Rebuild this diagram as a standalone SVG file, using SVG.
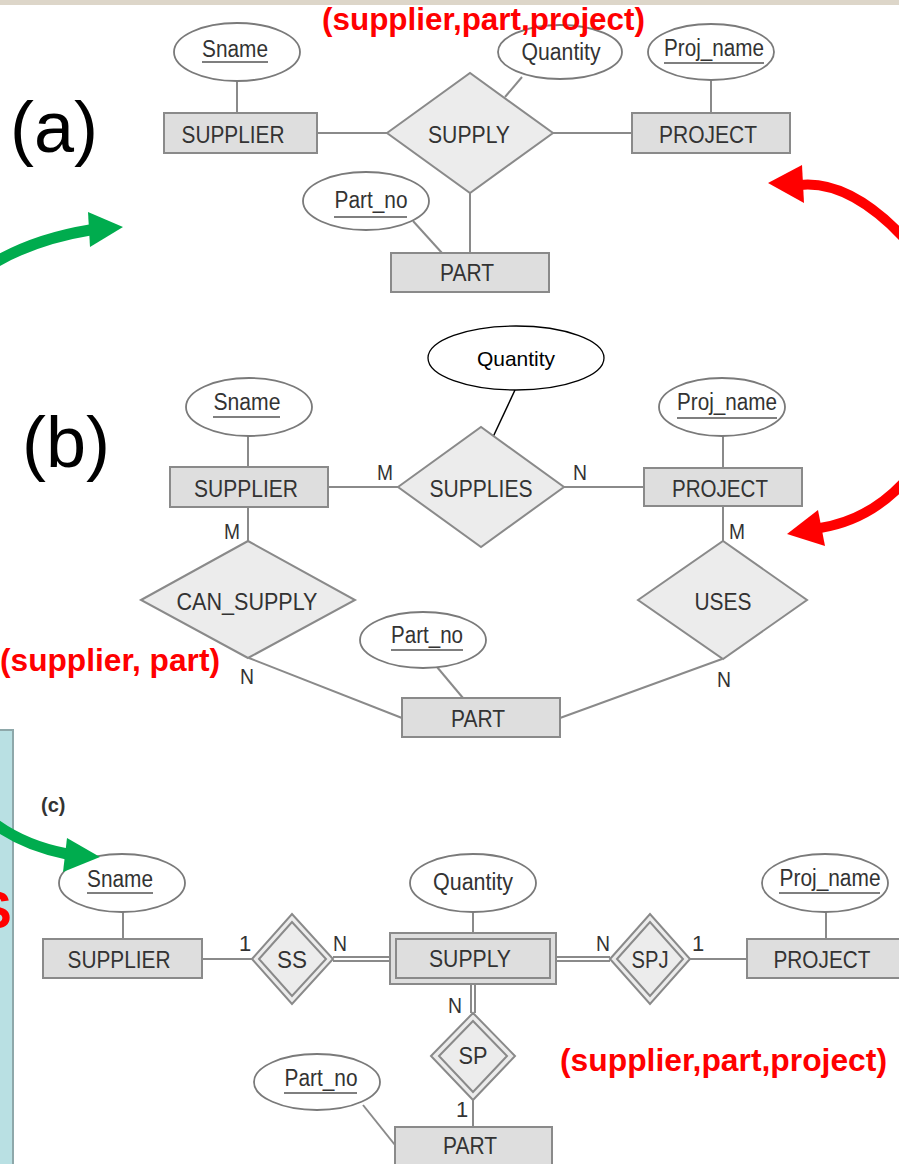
<svg xmlns="http://www.w3.org/2000/svg" width="899" height="1164" viewBox="0 0 899 1164">
<style>
.ent{fill:#dedede;stroke:#8a8a8a;stroke-width:2}
.rel{fill:#ececec;stroke:#8a8a8a;stroke-width:2}
.att{fill:#ffffff;stroke:#7a7a7a;stroke-width:1.8}
.lbl{font-family:"Liberation Sans",Arial,sans-serif;font-size:23px;fill:#333333;text-anchor:middle}
.card{font-family:"Liberation Sans",Arial,sans-serif;font-size:22px;fill:#333333;text-anchor:middle}
.ul{stroke:#555;stroke-width:1.6}
.ln{stroke:#8a8a8a;stroke-width:2;fill:none}
.dbl-o{stroke:#8a8a8a;stroke-width:6;fill:none}
.dbl-i{stroke:#ffffff;stroke-width:2;fill:none}
.red{font-family:"Liberation Sans",Arial,sans-serif;font-weight:bold;font-size:31px;fill:#ff0000}
.big{font-family:"Liberation Sans",Arial,sans-serif;font-size:72px;fill:#000}
.rarr{stroke:#ff0000;stroke-width:10;fill:none}
.garr{stroke:#00ac4e;stroke-width:11;fill:none}
</style>

<rect x="0" y="0" width="899" height="5" fill="#ddd6c9"/>
<rect id="side-panel" x="-2" y="730" width="15" height="440" fill="#b9e0e3" stroke="#8ea8aa" stroke-width="2"/>
<text x="-23" y="928" font-family="Liberation Sans, Arial, sans-serif" font-weight="bold" font-size="52" fill="#ff0000">S</text>

<!-- section labels -->
<text class="big" x="10" y="152">(a)</text>
<text class="big" x="22" y="467">(b)</text>
<text x="41" y="812" font-family="Liberation Sans, Arial, sans-serif" font-weight="bold" font-size="20" fill="#333">(c)</text>

<g id="connectors">
  <!-- (a) -->
  <line class="ln" x1="237" y1="81" x2="237" y2="113"/>
  <line class="ln" x1="317" y1="133" x2="387" y2="133"/>
  <line class="ln" x1="553" y1="133" x2="632" y2="133"/>
  <line class="ln" x1="470" y1="193" x2="470" y2="253"/>
  <line class="ln" x1="522" y1="77" x2="505" y2="97"/>
  <line class="ln" x1="711" y1="80" x2="711" y2="113"/>
  <line class="ln" x1="413" y1="221" x2="442" y2="253"/>
  <!-- (b) -->
  <line class="ln" x1="248" y1="436" x2="248" y2="467"/>
  <line class="ln" x1="328" y1="487" x2="398" y2="487"/>
  <line class="ln" x1="564" y1="487" x2="644" y2="487"/>
  <line class="ln" x1="723" y1="436" x2="723" y2="468"/>
  <line class="ln" x1="248" y1="507" x2="248" y2="541"/>
  <line class="ln" x1="723" y1="506" x2="723" y2="541"/>
  <line class="ln" x1="249" y1="658" x2="402" y2="718"/>
  <line class="ln" x1="722" y1="659" x2="560" y2="718"/>
  <line class="ln" x1="437" y1="667" x2="463" y2="698"/>
  <line x1="515" y1="390" x2="493" y2="437" stroke="#000" stroke-width="1.5"/>
  <!-- (c) -->
  <line class="ln" x1="123" y1="912" x2="123" y2="939"/>
  <line class="ln" x1="202" y1="959" x2="252" y2="959"/>
  <line class="ln" x1="473" y1="912" x2="473" y2="934"/>
  <line class="ln" x1="690" y1="959" x2="747" y2="959"/>
  <line class="ln" x1="826" y1="912" x2="826" y2="939"/>
  <line class="ln" x1="473" y1="1100" x2="473" y2="1127"/>
  <line class="ln" x1="363" y1="1105" x2="395" y2="1145"/>
  <line class="dbl-o" x1="333" y1="959" x2="391" y2="959"/>
  <line class="dbl-i" x1="333" y1="959" x2="391" y2="959"/>
  <line class="dbl-o" x1="556" y1="959" x2="610" y2="959"/>
  <line class="dbl-i" x1="556" y1="959" x2="610" y2="959"/>
  <line class="dbl-o" x1="473" y1="985" x2="473" y2="1013"/>
  <line class="dbl-i" x1="473" y1="985" x2="473" y2="1013"/>
</g>

<g id="cardinalities">
  <text class="card" x="385" y="480" textLength="16" lengthAdjust="spacingAndGlyphs">M</text>
  <text class="card" x="580" y="480" textLength="14" lengthAdjust="spacingAndGlyphs">N</text>
  <text class="card" x="232" y="539" textLength="16" lengthAdjust="spacingAndGlyphs">M</text>
  <text class="card" x="737" y="539" textLength="16" lengthAdjust="spacingAndGlyphs">M</text>
  <text class="card" x="247" y="684" textLength="14" lengthAdjust="spacingAndGlyphs">N</text>
  <text class="card" x="724" y="687" textLength="14" lengthAdjust="spacingAndGlyphs">N</text>
  <text class="card" x="245" y="951">1</text>
  <text class="card" x="340" y="951" textLength="14" lengthAdjust="spacingAndGlyphs">N</text>
  <text class="card" x="603" y="951" textLength="14" lengthAdjust="spacingAndGlyphs">N</text>
  <text class="card" x="698" y="951">1</text>
  <text class="card" x="455" y="1013" textLength="14" lengthAdjust="spacingAndGlyphs">N</text>
  <text class="card" x="462" y="1117">1</text>
</g>

<!-- ===== (a) ===== -->
<g id="a-sname">
  <ellipse class="att" cx="237" cy="52" rx="63" ry="29"/>
  <text class="lbl" x="235" y="57" textLength="66" lengthAdjust="spacingAndGlyphs">Sname</text>
  <line class="ul" x1="202" y1="62" x2="268" y2="62"/>
</g>
<g id="a-supplier">
  <rect class="ent" x="164" y="113" width="153" height="40"/>
  <text class="lbl" x="233" y="143" textLength="103" lengthAdjust="spacingAndGlyphs">SUPPLIER</text>
</g>
<g id="a-supply">
  <polygon class="rel" points="387,133 470,73 553,133 470,193"/>
  <text class="lbl" x="469" y="143" textLength="82" lengthAdjust="spacingAndGlyphs">SUPPLY</text>
</g>
<g id="a-quantity">
  <ellipse class="att" cx="560" cy="52" rx="62" ry="27"/>
  <text class="lbl" x="561" y="60" textLength="79" lengthAdjust="spacingAndGlyphs">Quantity</text>
</g>
<g id="a-projname">
  <ellipse class="att" cx="711" cy="52" rx="63" ry="28"/>
  <text class="lbl" x="714" y="56" textLength="100" lengthAdjust="spacingAndGlyphs">Proj_name</text>
  <line class="ul" x1="664" y1="63" x2="764" y2="63"/>
</g>
<g id="a-project">
  <rect class="ent" x="632" y="113" width="158" height="40"/>
  <text class="lbl" x="708" y="143" textLength="98" lengthAdjust="spacingAndGlyphs">PROJECT</text>
</g>
<g id="a-partno">
  <ellipse class="att" cx="366" cy="201" rx="63" ry="29"/>
  <text class="lbl" x="371" y="208" textLength="73" lengthAdjust="spacingAndGlyphs">Part_no</text>
  <line class="ul" x1="334" y1="217" x2="407" y2="217"/>
</g>
<g id="a-part">
  <rect class="ent" x="391" y="253" width="158" height="39"/>
  <text class="lbl" x="467" y="281" textLength="54" lengthAdjust="spacingAndGlyphs">PART</text>
</g>

<!-- ===== (b) ===== -->
<g id="b-quantity">
  <ellipse cx="516" cy="358" rx="88" ry="32" fill="#fff" stroke="#000" stroke-width="1.3"/>
  <text x="516" y="366" font-family="Liberation Sans, Arial, sans-serif" font-size="21" fill="#000" text-anchor="middle">Quantity</text>
</g>
<g id="b-sname">
  <ellipse class="att" cx="249" cy="407" rx="63" ry="29"/>
  <text class="lbl" x="247" y="410" textLength="67" lengthAdjust="spacingAndGlyphs">Sname</text>
  <line class="ul" x1="213" y1="417" x2="280" y2="417"/>
</g>
<g id="b-supplier">
  <rect class="ent" x="170" y="467" width="158" height="40"/>
  <text class="lbl" x="246" y="497" textLength="104" lengthAdjust="spacingAndGlyphs">SUPPLIER</text>
</g>
<g id="b-supplies">
  <polygon class="rel" points="398,487 481,427 564,487 481,547"/>
  <text class="lbl" x="481" y="497" textLength="103" lengthAdjust="spacingAndGlyphs">SUPPLIES</text>
</g>
<g id="b-projname">
  <ellipse class="att" cx="722" cy="407" rx="63" ry="29"/>
  <text class="lbl" x="727" y="410" textLength="100" lengthAdjust="spacingAndGlyphs">Proj_name</text>
  <line class="ul" x1="677" y1="418" x2="777" y2="418"/>
</g>
<g id="b-project">
  <rect class="ent" x="644" y="468" width="158" height="38"/>
  <text class="lbl" x="720" y="497" textLength="96" lengthAdjust="spacingAndGlyphs">PROJECT</text>
</g>
<g id="b-can-supply">
  <polygon class="rel" points="141,600 248,541 355,600 248,658"/>
  <text class="lbl" x="247" y="610" textLength="141" lengthAdjust="spacingAndGlyphs">CAN_SUPPLY</text>
</g>
<g id="b-uses">
  <polygon class="rel" points="638,600 723,541 807,600 723,659"/>
  <text class="lbl" x="723" y="610" textLength="57" lengthAdjust="spacingAndGlyphs">USES</text>
</g>
<g id="b-partno">
  <ellipse class="att" cx="423" cy="640" rx="63" ry="28"/>
  <text class="lbl" x="427" y="643" textLength="72" lengthAdjust="spacingAndGlyphs">Part_no</text>
  <line class="ul" x1="391" y1="650" x2="463" y2="650"/>
</g>
<g id="b-part">
  <rect class="ent" x="402" y="698" width="158" height="39"/>
  <text class="lbl" x="478" y="727" textLength="54" lengthAdjust="spacingAndGlyphs">PART</text>
</g>

<!-- ===== (c) ===== -->
<g id="c-sname">
  <ellipse class="att" cx="122" cy="883" rx="63" ry="29"/>
  <text class="lbl" x="120" y="887" textLength="66" lengthAdjust="spacingAndGlyphs">Sname</text>
  <line class="ul" x1="87" y1="893" x2="153" y2="893"/>
</g>
<g id="c-supplier">
  <rect class="ent" x="43" y="939" width="159" height="39"/>
  <text class="lbl" x="119" y="968" textLength="103" lengthAdjust="spacingAndGlyphs">SUPPLIER</text>
</g>
<g id="c-ss">
  <polygon class="rel" points="252,959 292,914 333,959 292,1004"/>
  <polygon class="rel" points="259,959 292,922 326,959 292,996"/>
  <text class="lbl" x="292" y="968" textLength="30" lengthAdjust="spacingAndGlyphs">SS</text>
</g>
<g id="c-supply">
  <rect class="ent" x="390" y="933" width="166" height="51"/>
  <rect class="ent" x="396" y="939" width="154" height="39"/>
  <text class="lbl" x="470" y="967" textLength="82" lengthAdjust="spacingAndGlyphs">SUPPLY</text>
</g>
<g id="c-quantity">
  <ellipse class="att" cx="473" cy="883" rx="63" ry="29"/>
  <text class="lbl" x="473" y="890" textLength="80" lengthAdjust="spacingAndGlyphs">Quantity</text>
</g>
<g id="c-spj">
  <polygon class="rel" points="610,959 650,914 690,959 650,1004"/>
  <polygon class="rel" points="617,959 650,922 683,959 650,996"/>
  <text class="lbl" x="650" y="968" textLength="37" lengthAdjust="spacingAndGlyphs">SPJ</text>
</g>
<g id="c-projname">
  <ellipse class="att" cx="825" cy="883" rx="63" ry="29"/>
  <text class="lbl" x="830" y="886" textLength="101" lengthAdjust="spacingAndGlyphs">Proj_name</text>
  <line class="ul" x1="779" y1="893" x2="880" y2="893"/>
</g>
<g id="c-project">
  <rect class="ent" x="747" y="939" width="160" height="39"/>
  <text class="lbl" x="822" y="968" textLength="97" lengthAdjust="spacingAndGlyphs">PROJECT</text>
</g>
<g id="c-sp">
  <polygon class="rel" points="431,1056 473,1013 515,1056 473,1100"/>
  <polygon class="rel" points="439,1056 473,1021 507,1056 473,1092"/>
  <text class="lbl" x="473" y="1064" textLength="29" lengthAdjust="spacingAndGlyphs">SP</text>
</g>
<g id="c-partno">
  <ellipse class="att" cx="317" cy="1082" rx="63" ry="28"/>
  <text class="lbl" x="321" y="1086" textLength="73" lengthAdjust="spacingAndGlyphs">Part_no</text>
  <line class="ul" x1="284" y1="1093" x2="357" y2="1093"/>
</g>
<g id="c-part">
  <rect class="ent" x="395" y="1127" width="157" height="42"/>
  <text class="lbl" x="470" y="1154" textLength="54" lengthAdjust="spacingAndGlyphs">PART</text>
</g>

<!-- red annotations on top -->
<text class="red" x="322" y="30" textLength="323" lengthAdjust="spacingAndGlyphs">(supplier,part,project)</text>
<text class="red" x="0" y="671" textLength="220" lengthAdjust="spacingAndGlyphs">(supplier, part)</text>
<text class="red" x="560" y="1071" textLength="327" lengthAdjust="spacingAndGlyphs">(supplier,part,project)</text>

<!-- annotation arrows -->
<g id="arrows">
  <path class="garr" d="M -6 263 Q 35 239 90 230"/>
  <polygon points="88,212 123,227 90,247" fill="#00ac4e"/>
  <path class="garr" d="M -5 824 Q 25 846 67 854"/>
  <polygon points="67,838 100,857 63,872" fill="#00ac4e"/>
  <path class="rarr" d="M 906 240 Q 850 180 800 185"/>
  <polygon points="802,165 768,183 804,203" fill="#ff0000"/>
  <path class="rarr" d="M 906 480 Q 870 520 820 528"/>
  <polygon points="818,510 787,534 825,546" fill="#ff0000"/>
</g>
</svg>
